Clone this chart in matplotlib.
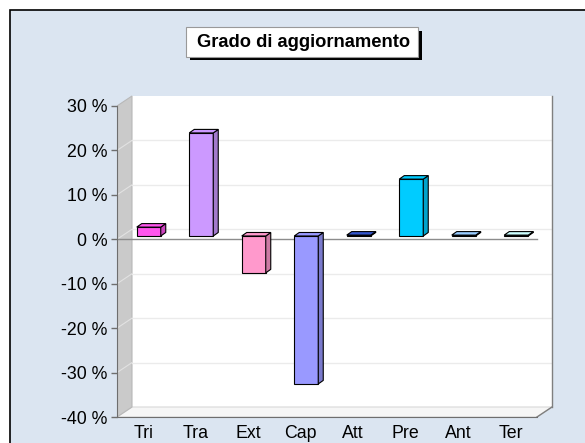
import matplotlib
matplotlib.use('Agg')
import matplotlib.pyplot as plt
from matplotlib.patches import Rectangle, Polygon

plt.rcParams['font.family'] = ['Liberation Sans', 'DejaVu Sans']

# data
categories = ['Tri', 'Tra', 'Ext', 'Cap', 'Att', 'Pre', 'Ant', 'Ter']
values = [2.0, 23.2, -8.3, -33.3, 0.2, 12.8, 0.2, 0.2]
bar_colors = ['#FF55EE', '#CC99FF', '#FF99CC', '#9999FF',
              '#3355CC', '#00CCFF', '#99CCFF', '#CCFFFF']
y_ticks = [-40, -30, -20, -10, 0, 10, 20, 30]
title = 'Grado di aggiornamento'

W, H = 585, 443
PX = 420 / 8.0      # pixels per category
PY = 311 / 70.0     # pixels per percent


def fx(p):
    return p / W


def fy(p):
    return 1 - p / H


def shade(c, f):
    r, g, b = matplotlib.colors.to_rgb(c)
    return (r * f, g * f, b * f)


fig = plt.figure(figsize=(W / 100, H / 100), dpi=100)
fig.patch.set_facecolor('white')

# outer panel
fig.patches.append(Rectangle((fx(10), fy(460)), fx(620) - fx(10), fy(10) - fy(460),
                             transform=fig.transFigure, facecolor='#DBE5F1',
                             edgecolor='black', lw=1.2, zorder=-2))
# title box with shadow
bx0, bx1, by0, by1 = 186, 418, 27.5, 56.5
fig.patches.append(Rectangle((fx(bx0 + 3.5), fy(by1 + 3.5)), fx(bx1) - fx(bx0), fy(by0) - fy(by1),
                             transform=fig.transFigure, facecolor='black', lw=0, zorder=1))
fig.patches.append(Rectangle((fx(bx0), fy(by1)), fx(bx1) - fx(bx0), fy(by0) - fy(by1),
                             transform=fig.transFigure, facecolor='white',
                             edgecolor='#999999', lw=0.8, zorder=2))
fig.text(fx((bx0 + bx1) / 2) + 0.002, fy((by0 + by1) / 2 + 0.5), title, ha='center', va='center',
         fontsize=13.2, fontweight='bold', zorder=3)

ymin, ymax = y_ticks[0], y_ticks[-1]
ddx, ddy = 15 / PX, 10 / PY          # wall depth
xlo, xhi = -0.5, len(categories) - 0.5
xmax = xhi + ddx + 0.03
ytop = ymax + ddy + 0.2

ax = fig.add_axes([fx(117), fy(417), (xmax - xlo) * PX / W, (ytop - ymin) * PY / H])
ax.set_zorder(5)
ax.set_xlim(xlo, xmax)
ax.set_ylim(ymin, ytop)
ax.patch.set_alpha(0)

# walls
ax.add_patch(Rectangle((xlo + ddx, ymin + ddy), xhi - xlo, ymax - ymin,
                       facecolor='white', edgecolor='none', zorder=0))
ax.add_patch(Polygon([(xlo, ymin), (xhi, ymin), (xhi + ddx, ymin + ddy), (xlo + ddx, ymin + ddy)],
                     closed=True, facecolor='#F6F6F6', edgecolor='#D8D8D8', lw=0.8, zorder=0.5))
ax.add_patch(Polygon([(xlo, ymin), (xlo, ymax), (xlo + ddx, ymax + ddy), (xlo + ddx, ymin + ddy)],
                     closed=True, facecolor='#CACACA', edgecolor='#B8B8B8', lw=0.8, zorder=0.5))
ax.plot([xhi + ddx, xhi + ddx], [ymin + ddy, ymax + ddy], color='#7F7F7F', lw=1, zorder=1)
ax.plot([xhi, xhi + ddx], [ymin, ymin + ddy], color='#7F7F7F', lw=1, zorder=1)

# grid on back wall and left wall
for v in y_ticks[1:-1]:
    ax.plot([xlo + ddx, xhi + ddx], [v + ddy, v + ddy], color='#EBEBEB', lw=1, zorder=0.8)
    ax.plot([xlo, xlo + ddx], [v, v + ddy], color='#E2E2E2', lw=0.8, zorder=0.8)

# zero line
ax.plot([xlo, xhi], [0, 0], color='#8C8C8C', lw=1.0, zorder=1.2)

# bars with a small 3D effect
bsx, bsy = 5.5 / PX, 3.3 / PY
bdx, bdy = 5 / PX, 3.5 / PY
w = 24 / PX
for i, (v, c) in enumerate(zip(values, bar_colors)):
    xc = i + bsx
    ax.bar(xc, v, width=w, bottom=bsy, color=c, edgecolor='black', lw=0.8, zorder=3)
    x0, x1 = xc - w / 2, xc + w / 2
    lo, hi = min(bsy, v + bsy), max(bsy, v + bsy)
    ax.add_patch(Polygon([(x1, lo), (x1, hi), (x1 + bdx, hi + bdy), (x1 + bdx, lo + bdy)],
                         closed=True, facecolor=shade(c, 0.8), edgecolor='black', lw=0.8, zorder=3))
    ax.add_patch(Polygon([(x0, hi), (x1, hi), (x1 + bdx, hi + bdy), (x0 + bdx, hi + bdy)],
                         closed=True, facecolor=c, edgecolor='black', lw=0.8, zorder=3))

# axes
for s in ['top', 'right']:
    ax.spines[s].set_visible(False)
ax.spines['left'].set_bounds(ymin, ymax)
ax.spines['bottom'].set_bounds(xlo, xhi)
ax.spines['left'].set_color('#6E6E6E')
ax.spines['bottom'].set_color('#6E6E6E')
ax.set_yticks(y_ticks)
ax.set_yticklabels([f'{t} %' for t in y_ticks])
ax.set_xticks(range(len(categories)))
ax.set_xticklabels(categories)
ax.tick_params(axis='y', length=4.3, width=1, color='#6E6E6E', pad=2.5, labelsize=12.8)
ax.tick_params(axis='x', length=0, pad=6, labelsize=12.8)

fig.savefig('out.png', dpi=100)
